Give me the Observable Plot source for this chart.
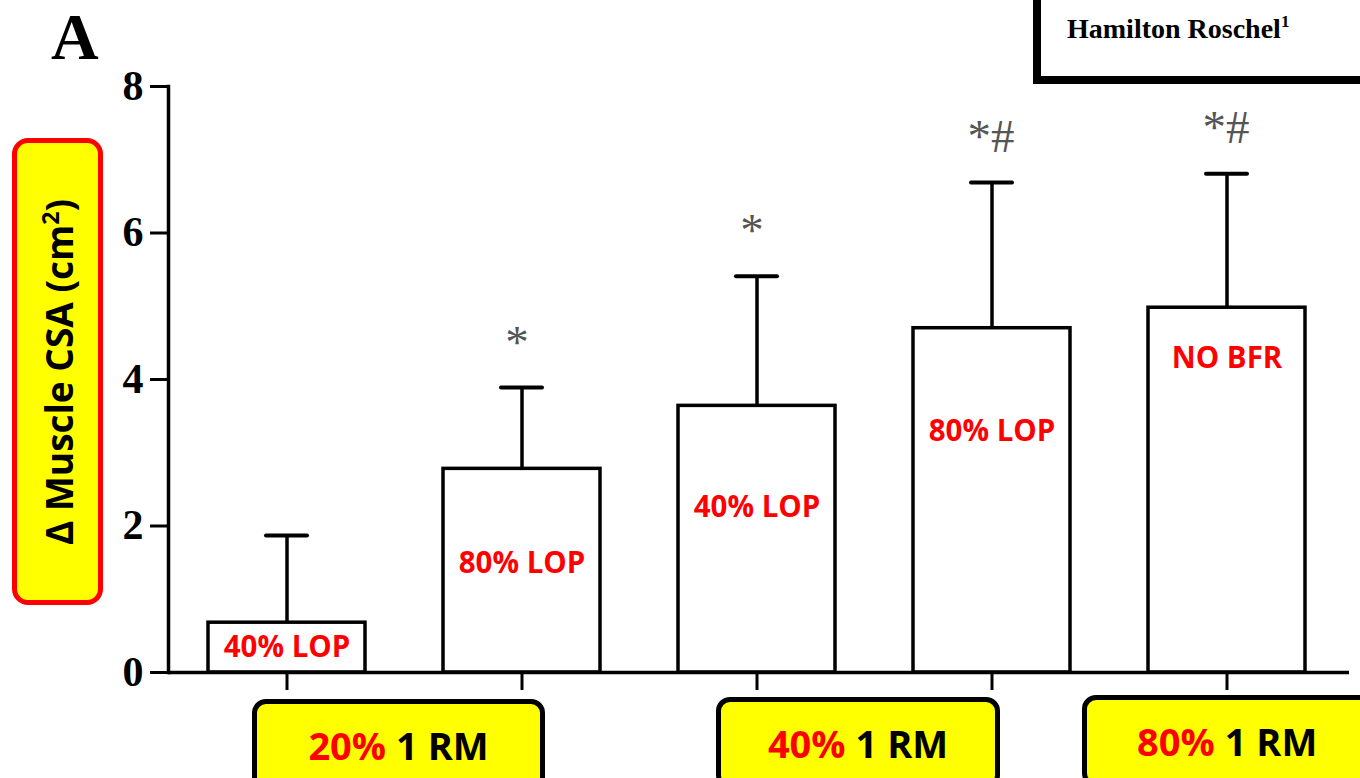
<!DOCTYPE html>
<html>
<head>
<meta charset="utf-8">
<script src="https://cdn.jsdelivr.net/npm/d3@7"></script>
<script src="https://cdn.jsdelivr.net/npm/@observablehq/plot@0.6"></script>
<style>
  html, body { margin: 0; padding: 0; background: #fff; }
  #wrap { position: relative; width: 1360px; height: 778px; overflow: hidden; background: #fff; }
  #wrap svg { position: absolute; left: 0; top: 0; }
  .ov { position: absolute; box-sizing: border-box; }
  .yb { left: 12px; top: 138px; width: 91px; height: 467px; border: 5px solid #ff0000; border-radius: 16px; background: #ffff00; }
  .yb span { position: absolute; left: 50%; top: 50%; transform: translate(-50%, -50%) rotate(-90deg); white-space: nowrap;
     font-family: "Open Sans", sans-serif; font-weight: 700; font-size: 37px; color: #000; }
  .xb { height: 92px; border: 5px solid #000; border-radius: 14px; background: #ffff00; display: flex; align-items: center; justify-content: center;
     font-family: "Open Sans", sans-serif; font-weight: 700; font-size: 38px; color: #000; white-space: nowrap; }
  .xb b { color: #ff0000; font-weight: 700; margin-right: 10px; }
  .tr { left: 1033px; top: -20px; width: 420px; height: 104px; border: 8px solid #000; background: #fff; }
  .tr span { position: absolute; left: 26px; top: 27px; font-family: "Liberation Serif", serif; font-weight: 700; font-size: 28px; line-height: 28px; color: #000; white-space: nowrap; }
  .tr sup { font-size: 17px; vertical-align: 0; position: relative; top: -11px; }
  .panel { left: 51px; top: 0px; font-family: "Liberation Serif", serif; font-weight: 700; font-size: 66px; line-height: 74px; height: 74px; color: #000; }
</style>
</head>
<body>
<div id="wrap"></div>
<script>
// ---- data ----
const groups = ["20% 1RM · 40% LOP", "20% 1RM · 80% LOP", "40% 1RM · 40% LOP", "40% 1RM · 80% LOP", "80% 1RM · No BFR"];
const means = [0.68, 2.78, 3.64, 4.70, 4.98];
const sds = [1.19, 1.11, 1.77, 1.99, 1.83];
const barLabels = ["40% LOP", "80% LOP", "40% LOP", "80% LOP", "NO BFR"];
const signif = ["", "*", "*", "*#", "*#"];
const yTicks = [0, 2, 4, 6, 8];
const loadLabels = [["20%", "1 RM"], ["40%", "1 RM"], ["80%", "1 RM"]];

const data = groups.map((g, i) => ({group: g, mean: means[i], sd: sds[i], top: means[i] + sds[i], label: barLabels[i], sig: signif[i]}));

// label vertical offsets (px) below bar tops
const labelDy = [25, 95, 102, 103, 51];

const marks = [
  Plot.barY(data, {x: "group", y: "mean", fill: "#fff", stroke: "#000", strokeWidth: 3.5}),
  Plot.ruleX(data, {x: "group", y1: "mean", y2: "top", stroke: "#000", strokeWidth: 3.5}),
  Plot.tickY(data, {x: "group", y: "top", insetLeft: 58, insetRight: 58, stroke: "#000", strokeWidth: 4, strokeLinecap: "round"}),
  ...data.map((d, i) => Plot.text([d], {x: "group", y: "mean", text: "label", dy: labelDy[i], fill: "#ff0000",
      fontFamily: "Open Sans", fontWeight: "bold", fontSize: 29.5})),
  Plot.text(data.filter(d => d.sig === "*"), {x: "group", y: "top", text: "sig", dy: -45, dx: -5, fill: "#555",
      fontFamily: "Liberation Serif", fontSize: 47}),
  Plot.text(data.filter(d => d.sig === "*#"), {x: "group", y: "top", text: "sig", dy: -46, dx: -1, fill: "#555",
      fontFamily: "Liberation Serif", fontSize: 47}),
  Plot.axisY({ticks: yTicks, tickSize: 18, tickPadding: 7, fontSize: 42, fontFamily: "Liberation Serif", fontWeight: "bold",
      strokeWidth: 3, label: null, tickFormat: d => String(d), fill: "#000"}),
  Plot.axisX({tickSize: 18, tickFormat: () => "", strokeWidth: 3, label: null}),
  Plot.ruleY([0], {stroke: "#000", strokeWidth: 3.5, insetRight: -4}),
  Plot.frame({anchor: "left", stroke: "#000", strokeWidth: 3.5})
];

const chart = Plot.plot({
  width: 1360, height: 778,
  marginLeft: 168, marginRight: 15, marginTop: 86, marginBottom: 106,
  x: {domain: groups, paddingInner: 0.3326, paddingOuter: 0.168, axis: null},
  y: {domain: [0, 8], axis: null},
  style: {background: "transparent", overflow: "visible"},
  marks
});

const wrap = document.getElementById("wrap");
wrap.appendChild(chart);

function ov(cls, html, style) {
  const d = document.createElement("div");
  d.className = "ov " + cls;
  d.innerHTML = html;
  if (style) Object.assign(d.style, style);
  wrap.appendChild(d);
  return d;
}
ov("panel", "A");
ov("tr", "<span>Hamilton Roschel<sup>1</sup></span>");
ov("yb", "<span>Δ Muscle CSA (cm<sup style='font-size:23px;vertical-align:0;position:relative;top:-14px'>2</sup>)</span>");
const boxPos = [{left: "252px", top: "699px", width: "293px"}, {left: "716px", top: "697px", width: "284px"}, {left: "1082px", top: "695px", width: "300px"}];
loadLabels.forEach((l, i) => {
  const d = ov("xb", `<b>${l[0]}</b>${l[1]}`, boxPos[i]);
  if (i === 2) { d.style.justifyContent = "flex-start"; d.style.paddingLeft = "50px"; }
});
</script>
</body>
</html>
